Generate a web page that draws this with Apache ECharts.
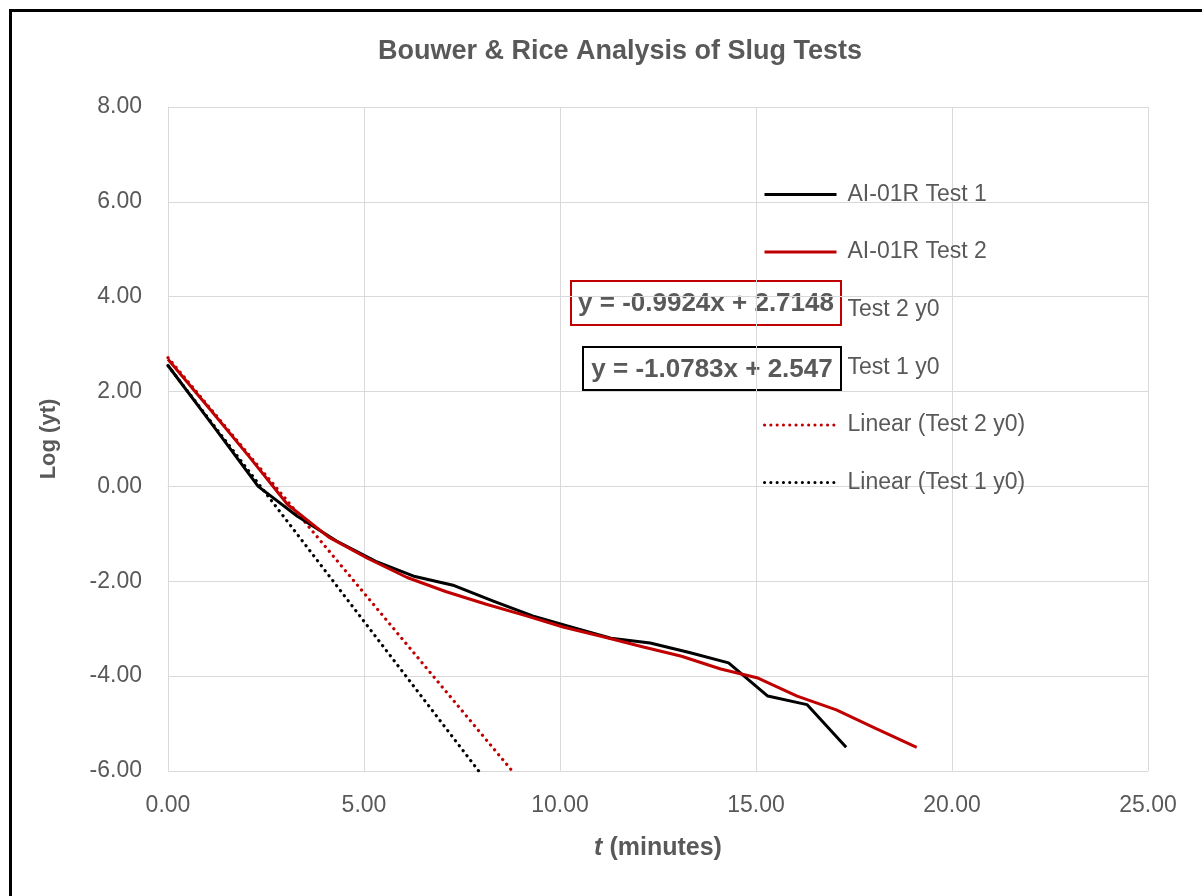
<!DOCTYPE html>
<html>
<head>
<meta charset="utf-8">
<script src="https://cdn.jsdelivr.net/npm/echarts@6/dist/echarts.min.js"></script>
<style>
html,body{margin:0;padding:0;background:#fff;}
#chart{width:1202px;height:896px;}
</style>
</head>
<body>
<div id="chart"></div>
<script>
// ---- data ----
const test1X = [0, 1.15, 2.3, 3.3, 4.3, 5.3, 6.3, 7.3, 8.3, 9.3, 10.3, 11.3, 12.3, 13.3, 14.3, 15.3, 16.3, 17.3];
const test1Y = [2.55, 1.28, 0.0, -0.63, -1.15, -1.58, -1.9, -2.09, -2.42, -2.73, -2.97, -3.2, -3.3, -3.5, -3.72, -4.42, -4.6, -5.5];
const test2X = [0, 1.05, 2.05, 3.05, 4.1, 5.1, 6.1, 7.1, 8.1, 9.1, 10.1, 11.1, 12.1, 13.1, 14.1, 15.05, 16.05, 17.05, 18.05, 19.1];
const test2Y = [2.68, 1.65, 0.65, -0.38, -1.07, -1.52, -1.92, -2.22, -2.48, -2.72, -2.97, -3.17, -3.38, -3.58, -3.85, -4.04, -4.42, -4.71, -5.1, -5.5];
const test1y0Count = 3;   // points of Test 1 used for y0 fit
const test2y0Count = 4;   // points of Test 2 used for y0 fit
const trend1 = {slope: -1.0783, intercept: 2.547, xEnd: 7.93};
const trend2 = {slope: -0.9924, intercept: 2.7148, xEnd: 8.78};
const xTicks = {min: 0, max: 25, interval: 5};
const yTicks = {min: -6, max: 8, interval: 2};
const names = ['AI-01R Test 1', 'AI-01R Test 2', 'Test 2 y0', 'Test 1 y0', 'Linear (Test 2 y0)', 'Linear (Test 1 y0)'];
const eq1 = 'y = -1.0783x + 2.547';
const eq2 = 'y = -0.9924x + 2.7148';

const zip = (xs, ys) => xs.map((x, i) => [x, ys[i]]);
const trendData = t => [0, t.xEnd].map(x => [x, t.slope * x + t.intercept]);

const FONT = 'Liberation Sans, Arial, sans-serif';
const GREY = '#595959';
const RED = '#c00000';
const DOT = [0.1, 6.2];

const chart = echarts.init(document.getElementById('chart'), null, {renderer: 'canvas'});
chart.setOption({
  animation: false,
  backgroundColor: '#fff',
  title: {
    text: 'Bouwer & Rice Analysis of Slug Tests',
    left: 615, top: 33, textAlign: 'center',
    textStyle: {fontFamily: FONT, fontSize: 27, fontWeight: 'bold', color: GREY}
  },
  grid: {left: 168, right: 54, top: 107, bottom: 125},
  xAxis: {
    type: 'value', min: xTicks.min, max: xTicks.max, interval: xTicks.interval,
    name: '{i|t} (minutes)', nameLocation: 'middle', nameGap: 65,
    nameTextStyle: {fontFamily: FONT, fontSize: 25, fontWeight: 'bold', color: GREY,
      rich: {i: {fontFamily: FONT, fontSize: 25, fontWeight: 'bold', fontStyle: 'italic', color: GREY}}},
    axisLine: {lineStyle: {color: '#d9d9d9', width: 1}},
    axisTick: {show: false},
    axisLabel: {fontFamily: FONT, fontSize: 23, color: GREY, margin: 23, formatter: v => v.toFixed(2)},
    splitLine: {lineStyle: {color: '#d9d9d9', width: 1}}
  },
  yAxis: {
    type: 'value', min: yTicks.min, max: yTicks.max, interval: yTicks.interval,
    name: 'Log (yt)', nameLocation: 'middle', nameGap: 108,
    nameTextStyle: {fontFamily: FONT, fontSize: 22, fontWeight: 'bold', color: GREY},
    axisLine: {show: true, lineStyle: {color: '#d9d9d9', width: 1}},
    axisTick: {show: false},
    axisLabel: {fontFamily: FONT, fontSize: 23, color: GREY, margin: 26, formatter: v => v.toFixed(2)},
    splitLine: {lineStyle: {color: '#d9d9d9', width: 1}}
  },
  legend: {
    orient: 'vertical', left: 763, top: 183, padding: 0,
    itemWidth: 72, itemHeight: 20, itemGap: 34.6,
    itemStyle: {opacity: 0},
    lineStyle: {width: 3},
    textStyle: {fontFamily: FONT, fontSize: 23, color: GREY, lineHeight: 20, padding: [0, 0, 0, 6]},
    data: names
  },
  series: [
    {name: names[4], type: 'line', z: 2, symbol: 'none', data: trendData(trend2),
      lineStyle: {color: RED, width: 3.2, type: DOT, cap: 'round'}, itemStyle: {color: RED}},
    {name: names[5], type: 'line', z: 2, symbol: 'none', data: trendData(trend1),
      lineStyle: {color: '#000', width: 3.2, type: DOT, cap: 'round'}, itemStyle: {color: '#000'}},
    {name: names[2], type: 'line', z: 1, symbol: 'none', data: zip(test2X, test2Y).slice(0, test2y0Count),
      lineStyle: {opacity: 0}, itemStyle: {color: RED, opacity: 0}},
    {name: names[3], type: 'line', z: 1, symbol: 'none', data: zip(test1X, test1Y).slice(0, test1y0Count),
      lineStyle: {opacity: 0}, itemStyle: {color: '#000', opacity: 0}},
    {name: names[0], type: 'line', z: 4, symbol: 'none', data: zip(test1X, test1Y),
      lineStyle: {color: '#000', width: 3, join: 'round'}, itemStyle: {color: '#000'}},
    {name: names[1], type: 'line', z: 5, symbol: 'none', data: zip(test2X, test2Y),
      lineStyle: {color: RED, width: 3, join: 'round'}, itemStyle: {color: RED}}
  ],
  graphic: [
    {type: 'rect', left: 9, top: 9, z: 100, silent: true,
      shape: {x: 0, y: 0, width: 1260, height: 960},
      style: {fill: 'transparent', stroke: '#000', lineWidth: 3}},
    {type: 'group', left: 570, top: 280, z: 100, children: [
      {type: 'rect', shape: {x: 1, y: 1, width: 270, height: 44},
        style: {fill: 'transparent', stroke: RED, lineWidth: 2}},
      {type: 'text', x: 136, y: 24,
        style: {text: eq2, fontFamily: FONT, fontSize: 26, fontWeight: 'bold', fill: GREY,
          textAlign: 'center', textVerticalAlign: 'middle', align: 'center', verticalAlign: 'middle'}}
    ]},
    {type: 'group', left: 582, top: 346, z: 100, children: [
      {type: 'rect', shape: {x: 1, y: 1, width: 258, height: 43},
        style: {fill: 'transparent', stroke: '#000', lineWidth: 2}},
      {type: 'text', x: 130, y: 24,
        style: {text: eq1, fontFamily: FONT, fontSize: 26, fontWeight: 'bold', fill: GREY,
          textAlign: 'center', textVerticalAlign: 'middle', align: 'center', verticalAlign: 'middle'}}
    ]}
  ]
});
</script>
</body>
</html>
